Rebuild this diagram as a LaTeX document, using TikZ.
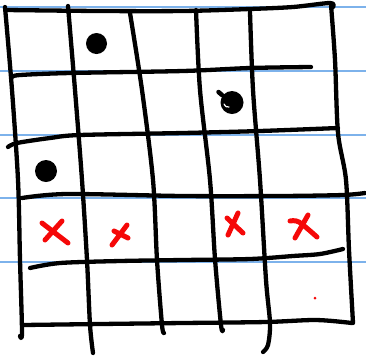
\documentclass[tikz,border=0pt]{standalone}
\usetikzlibrary{calc}

\definecolor{ruleblue}{RGB}{125,178,235}
\definecolor{penred}{RGB}{245,8,8}

\begin{document}
\begin{tikzpicture}[
    x=1pt, y=-1pt,
    ruled line/.style={ruleblue, line width=1.6pt},
    pen/.style={black, line width=4.3pt, line cap=round, line join=round},
    cross/.style={penred, line width=5pt, line cap=round},
    dot/.style={black},
]
\useasboundingbox (0,0) rectangle (366,360);

% =========================================================
% 1. Notebook paper (ruled lines)
% =========================================================
\foreach \y in {7,71,135,198,262}
    \draw[ruled line] (0,\y) -- (366,\y);

% =========================================================
% 2. Hand-drawn grid
% =========================================================
% outer border: top, right, bottom, left
\draw[pen] plot[smooth] coordinates {(6,10) (100,11) (183,11) (250,9) (293,7) (330,3) (333,7)};
\draw[pen] plot[smooth] coordinates {(331,5) (335,60) (338,133) (346,180) (349,250) (353,323)};
\draw[pen] plot[smooth] coordinates {(352,323) (316,320) (266,322) (183,323) (100,324) (23,325)};
\draw[pen] plot[smooth] coordinates {(5,7) (12,90) (18,180) (20,260) (22,332) (20,336)};

% inner verticals (left to right)
\draw[pen] plot[smooth] coordinates {(68,6) (75,90) (82,180) (87,260) (90,325) (93,353)};
\draw[pen] plot[smooth] coordinates {(130,13) (142,90) (153,180) (157,260) (162,325) (164,333)};
\draw[pen] plot[smooth] coordinates {(196,10) (200,90) (210,180) (215,259) (221,325) (223,330)};
\draw[pen] plot[smooth] coordinates {(250,12) (253,90) (260,180) (266,280) (270,323) (268,345) (263,352)};

% inner horizontals (top to bottom)
\draw[pen] plot[smooth] coordinates {(12,77) (20,75) (70,73) (183,71) (250,68) (311,67)};
\draw[pen] plot[smooth] coordinates {(8,147) (17,143) (50,138) (80,135) (183,133) (260,131) (338,128)};
\draw[pen] plot[smooth] coordinates {(22,198) (67,194) (183,196) (280,196) (343,195) (365,193)};
\draw[pen] plot[smooth] coordinates {(30,268) (60,263) (120,261) (183,260) (250,259) (293,256) (320,254) (343,249)};
\fill[dot] (296,255) circle (1.5);

% =========================================================
% 3. Dots
% =========================================================
\fill[dot] (96.5,43.5) circle (10.5);
\fill[dot] (232,102.5) circle (11.5);
\draw[pen, line width=4.5pt] (218.5,92) -- (222,95);
\draw[white, line width=1.2pt, line cap=round] (224,104) .. controls (226,107) .. (229,107);
\fill[dot] (46,171) circle (11);

% =========================================================
% 4. Crosses
% =========================================================
\draw[cross] (42,223) -- (68,243) (62,221) -- (45,240);
\draw[cross] (112,245) -- (127,225) (114,231) -- (128,238);
\draw[cross] (227,218) -- (243,233) (238,213) -- (228,235);
\draw[cross] plot[smooth] coordinates {(290,221) (299,222) (317,237)};
\draw[cross] (308,215) -- (295,238);
\fill[penred] (315,298) circle (1.5);

\end{tikzpicture}
\end{document}
